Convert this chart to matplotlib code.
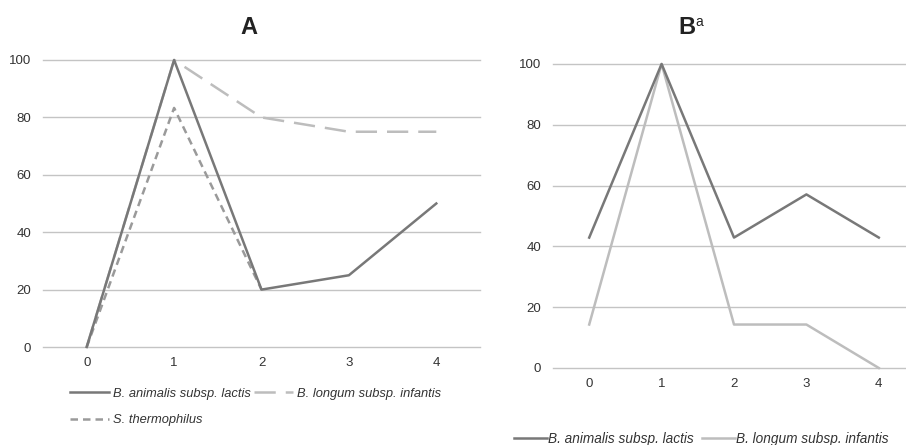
import numpy as np
import matplotlib
matplotlib.use('Agg')
import matplotlib.pyplot as plt

plt.rcParams['font.family'] = ['Liberation Sans', 'DejaVu Sans']

# Data
days = [0, 1, 2, 3, 4]
a_lactis = [0, 100, 20, 25, 50]
a_infantis = [0, 100, 80, 75, 75]
a_thermo = [0, 83.3, 20, np.nan, np.nan]

b_lactis = [42.9, 100, 42.9, 57.1, 42.9]
b_infantis = [14.3, 100, 14.3, 14.3, 0]

yticks = [0, 20, 40, 60, 80, 100]

c_lactis = '#787878'
c_infantis = '#bdbdbd'
c_thermo = '#9a9a9a'
c_grid = '#c4c4c4'
c_text = '#333333'

W, H = 906, 445
fig = plt.figure(figsize=(W / 100, H / 100), dpi=100)


def px_axes(l, r, t, b):
    return fig.add_axes([l / W, 1 - b / H, (r - l) / W, (b - t) / H])


def style(ax):
    ax.set_xlim(-0.5, 4.5)
    ax.set_ylim(0, 100)
    ax.set_xticks(days)
    ax.set_yticks(yticks)
    for s in ax.spines.values():
        s.set_visible(False)
    ax.grid(axis='y', color=c_grid, linewidth=1)
    ax.set_axisbelow(True)
    ax.tick_params(length=0, labelsize=9.5, labelcolor=c_text)
    ax.tick_params(axis='y', pad=8.5)
    ax.tick_params(axis='x', pad=7)
    for g in ax.get_ygridlines():
        g.set_clip_on(False)


# Panel A
axA = px_axes(43, 480, 60, 347)
style(axA)
lA1, = axA.plot(days, a_lactis, color=c_lactis, lw=1.8, clip_on=False, zorder=3)
lA2, = axA.plot(days, a_infantis, color=c_infantis, lw=1.8, clip_on=False,
                dashes=(8.5, 4), zorder=2)
lA3, = axA.plot(days, a_thermo, color=c_thermo, lw=1.8, clip_on=False,
                dashes=(3, 2), zorder=2)
fig.text(249 / W, 1 - 27 / H, 'A', ha='center', va='center',
         fontsize=17, fontweight='bold', color='#222222')

axA.legend([lA1, lA3, lA2],
           ['B. animalis subsp. lactis', 'S. thermophilus', 'B. longum subsp. infantis'],
           ncol=2, loc='center left', frameon=False,
           bbox_to_anchor=(70 / W, 1 - 407 / H), bbox_transform=fig.transFigure,
           prop={'style': 'italic', 'size': 9.3}, labelcolor=c_text,
           handlelength=3.0, handletextpad=0.3, columnspacing=0.3,
           labelspacing=1.1, borderpad=0, borderaxespad=0)

# Panel B
axB = px_axes(553, 915, 64, 368)
style(axB)
lB1, = axB.plot(days, b_lactis, color=c_lactis, lw=1.8, clip_on=False, zorder=3)
lB2, = axB.plot(days, b_infantis, color=c_infantis, lw=1.8, clip_on=False, zorder=2)
fig.text(695 / W, 1 - 27 / H, 'B', ha='right', va='center',
         fontsize=17, fontweight='bold', color='#222222')
fig.text(695 / W, 1 - 22 / H, 'a', ha='left', va='center',
         fontsize=10, color='#222222')

axB.legend([lB1, lB2],
           ['B. animalis subsp. lactis', 'B. longum subsp. infantis'],
           ncol=2, loc='center left', frameon=False,
           bbox_to_anchor=(514 / W, 1 - 439 / H), bbox_transform=fig.transFigure,
           prop={'style': 'italic', 'size': 9.8}, labelcolor=c_text,
           handlelength=2.4, handletextpad=0.1, columnspacing=0.6,
           borderpad=0, borderaxespad=0)

fig.savefig('out.png', dpi=100)
